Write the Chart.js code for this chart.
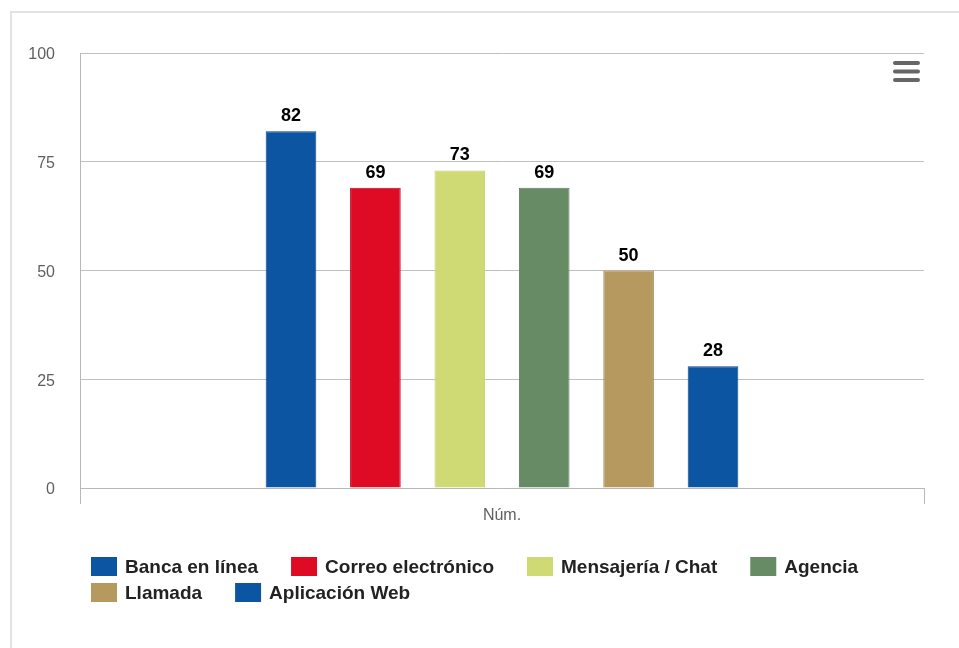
<!DOCTYPE html>
<html lang="es">
<head>
<meta charset="utf-8">
<title>Núm.</title>
<script src="https://cdn.jsdelivr.net/npm/chart.js"></script>
<style>
  html, body { margin: 0; padding: 0; background: #fff; overflow: hidden; }
  #frame { position: absolute; left: 10px; top: 11px; width: 1000px; height: 700px; border: 2px solid #e2e2e2; box-sizing: border-box; }
  #wrap { position: absolute; left: 0; top: 0; width: 959px; height: 648px; }
</style>
</head>
<body>
<div id="frame"></div>
<div id="wrap"><canvas id="canalesChart" width="959" height="648"></canvas></div>
<script>
// Categories, series and axis ticks
const categories = ['Núm.'];
const seriesNames = ['Banca en línea', 'Correo electrónico', 'Mensajería / Chat', 'Agencia', 'Llamada', 'Aplicación Web'];
const seriesValues = [82, 69, 73, 69, 50, 28];
const seriesColors = ['#0b55a2', '#df0a24', '#d0da75', '#678b64', '#b6995f', '#0b55a2'];
const seriesBorders = ['#0a468a', '#b80a1e', '#c4ce6c', '#5c7e5a', '#a88c55', '#0a468a'];
const yTicks = [0, 25, 50, 75, 100];

const FONT = '"Liberation Sans", Arial, Helvetica, sans-serif';

// one dataset per channel, all in the single category
const datasets = seriesNames.map((name, i) => ({
  label: name,
  data: [seriesValues[i]],
  backgroundColor: seriesColors[i],
  borderColor: seriesBorders[i],
  borderWidth: 1,
  categoryPercentage: 0.6,
  barPercentage: 0.6
}));

// value printed above each bar
const valueLabels = {
  id: 'valueLabels',
  afterDatasetsDraw(chart) {
    const ctx = chart.ctx;
    ctx.save();
    ctx.font = 'bold 18px ' + FONT;
    ctx.fillStyle = '#000';
    ctx.textAlign = 'center';
    ctx.textBaseline = 'alphabetic';
    chart.data.datasets.forEach((ds, i) => {
      chart.getDatasetMeta(i).data.forEach((bar, j) => {
        ctx.fillText(ds.data[j], bar.x, bar.y - 10);
      });
    });
    ctx.restore();
  }
};

// legend rows under the axis, left aligned, wrapping
const legendRows = {
  id: 'legendRows',
  afterDraw(chart) {
    const ctx = chart.ctx;
    const startX = 91;
    const maxX = 930;
    let x = startX;
    let y = 567;
    ctx.save();
    ctx.font = 'bold 19px ' + FONT;
    ctx.textBaseline = 'middle';
    ctx.textAlign = 'left';
    chart.data.datasets.forEach(ds => {
      const w = 26 + 8 + ctx.measureText(ds.label).width;
      if (x > startX && x + w > maxX) {
        x = startX;
        y += 26;
      }
      ctx.fillStyle = ds.backgroundColor;
      ctx.fillRect(x, y - 10, 26, 19);
      ctx.fillStyle = '#222';
      ctx.fillText(ds.label, x + 34, y + 1);
      x += w + 33;
    });
    ctx.restore();
  }
};

// export menu icon (three bars) top right
const menuIcon = {
  id: 'menuIcon',
  afterDraw(chart) {
    const ctx = chart.ctx;
    ctx.save();
    ctx.fillStyle = '#666';
    [61, 69.5, 78].forEach(top => {
      ctx.beginPath();
      ctx.roundRect(893, top, 27, 4, 2);
      ctx.fill();
    });
    ctx.restore();
  }
};

new Chart(document.getElementById('canalesChart'), {
  type: 'bar',
  data: {
    labels: categories,
    datasets: datasets
  },
  plugins: [valueLabels, legendRows, menuIcon],
  options: {
    responsive: false,
    animation: false,
    layout: {
      padding: { top: 53, right: 35, bottom: 120, left: 0 }
    },
    plugins: {
      legend: { display: false },
      tooltip: { enabled: false }
    },
    scales: {
      x: {
        grid: {
          display: true,
          drawOnChartArea: false,
          drawTicks: true,
          tickLength: 16,
          color: '#b8b8b8',
          offset: true
        },
        border: { display: true, color: '#b8b8b8' },
        ticks: { color: '#606060', font: { size: 16, family: FONT }, padding: 2 },
        afterFit(scale) { scale.height = 40; }
      },
      y: {
        min: 0,
        max: 100,
        afterBuildTicks(scale) { scale.ticks = yTicks.map(v => ({ value: v })); },
        ticks: { color: '#606060', font: { size: 16, family: FONT }, padding: 25, labelOffset: 2 },
        grid: { color: '#c0c0c0', drawTicks: false, tickLength: 0 },
        border: { display: true, color: '#b8b8b8' },
        afterFit(scale) { scale.width = 80; }
      }
    }
  }
});
</script>
</body>
</html>
